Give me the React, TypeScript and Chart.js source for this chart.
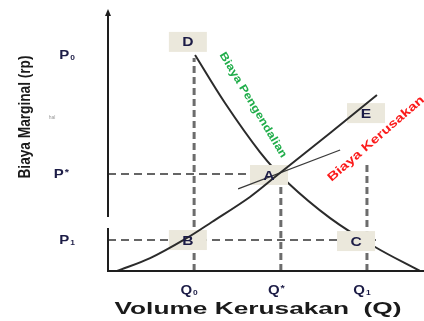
import React, { useEffect, useRef } from 'react';
import { Chart, registerables } from 'chart.js';

Chart.register(...registerables);

// Curves (x = volume, y = marginal cost, 0..100 units)
const controlX = [27.9, 37.5, 48.7, 57.4, 71.2, 85.6, 100];
const controlY = [83.7, 65.1, 46.1, 34.5, 20.5, 9.3, 0];
const damageX = [2.9, 13.5, 25.3, 33.3, 45.5, 53.5, 71.2, 86.2];
const damageY = [0, 5.0, 12.8, 19.0, 28.7, 36.4, 53.5, 68.2];
const tangentX = [41.7, 74.4];
const tangentY = [31.8, 46.9];

// Axis reference values
const qValues = [27.6, 55.4, 83.0];
const qLabels = ['Q', 'Q', 'Q'];
const qSubs = ['0', '*', '1'];
const pValues = [83.7, 37.6, 12.0];
const pLabels = ['P', 'P', 'P'];
const pSubs = ['0', '*', '1'];
const dropTops = [82.6, 37.6, 41.9];
const guideEnds = [55.4, 87.0];

// Labelled points
const pointLabels = ['D', 'E', 'A', 'B', 'C'];
const pointX = [25.6, 82.7, 51.6, 25.6, 79.5];
const pointY = [88.8, 61.2, 37.2, 12.0, 11.6];

const curveLabels = ['Biaya Pengendalian', 'Biaya Kerusakan'];
const xTitle = 'Volume Kerusakan  (Q)';
const yTitle = 'Biaya Marginal (rp)';
const smallNote = 'hal';

const FONT = '"Liberation Sans", Arial, sans-serif';
const INK = '#1c1c46';

function stretchText(
  ctx: CanvasRenderingContext2D,
  text: string,
  x: number,
  y: number,
  angle: number,
  font: string,
  color: string,
  targetW: number | null,
  sx = 1
) {
  ctx.save();
  ctx.translate(x, y);
  ctx.rotate(angle);
  ctx.font = font;
  const w = ctx.measureText(text).width;
  const s = targetW ? targetW / w : sx;
  ctx.scale(s, 1);
  ctx.fillStyle = color;
  ctx.textAlign = 'center';
  ctx.textBaseline = 'middle';
  ctx.fillText(text, 0, 0);
  ctx.restore();
}

function drawSubLabel(ctx: CanvasRenderingContext2D, base: string, sub: string, cx: number, cy: number) {
  const sx = 1.25;
  ctx.save();
  ctx.font = `bold 12px ${FONT}`;
  const wb = ctx.measureText(base).width * sx;
  ctx.font = `bold 7px ${FONT}`;
  const ws = ctx.measureText(sub).width * 1.2;
  const start = cx - (wb + ws + 1) / 2;
  ctx.fillStyle = INK;
  ctx.textAlign = 'left';
  ctx.textBaseline = 'alphabetic';
  ctx.save();
  ctx.translate(start, cy + 5);
  ctx.scale(sx, 1);
  ctx.font = `bold 12px ${FONT}`;
  ctx.fillText(base, 0, 0);
  ctx.restore();
  ctx.save();
  ctx.translate(start + wb + 1, sub === '*' ? cy + 2 : cy + 6);
  ctx.scale(1.2, 1);
  ctx.font = `bold ${sub === '*' ? 9 : 7}px ${FONT}`;
  ctx.fillText(sub, 0, 0);
  ctx.restore();
  ctx.restore();
}

const overlay = {
  id: 'overlay',
  afterDatasetDraw(chart: any, args: any) {
    if (args.index !== 2) return;
    const ctx = chart.ctx as CanvasRenderingContext2D;
    const xs = chart.scales.x;
    const ys = chart.scales.y;
    ctx.save();
    ctx.fillStyle = '#ebe8dc';
    pointLabels.forEach((_, i) => {
      const px = xs.getPixelForValue(pointX[i]);
      const py = ys.getPixelForValue(pointY[i]);
      ctx.fillRect(px - 19, py - 10, 38, 20);
    });
    ctx.restore();
  },
  afterDatasetsDraw(chart: any) {
    const ctx = chart.ctx as CanvasRenderingContext2D;
    const xs = chart.scales.x;
    const ys = chart.scales.y;
    const { left, top, bottom } = chart.chartArea;

    // point letters
    pointLabels.forEach((lab, i) => {
      const px = xs.getPixelForValue(pointX[i]);
      const py = ys.getPixelForValue(pointY[i]);
      stretchText(ctx, lab, px, py + 1, 0, `bold 13px ${FONT}`, INK, null, 1.2);
    });

    // axes
    ctx.save();
    ctx.strokeStyle = '#1e1e1e';
    ctx.lineWidth = 2;
    ctx.beginPath();
    ctx.moveTo(left, top);
    ctx.lineTo(left, bottom - 54);
    ctx.moveTo(left, bottom - 43);
    ctx.lineTo(left, bottom + 1);
    ctx.moveTo(left - 1, bottom);
    ctx.lineTo(chart.width, bottom);
    ctx.stroke();
    ctx.fillStyle = '#1e1e1e';
    ctx.beginPath();
    ctx.moveTo(left, top - 4);
    ctx.lineTo(left - 3, top + 3);
    ctx.lineTo(left + 3, top + 3);
    ctx.closePath();
    ctx.fill();
    ctx.restore();

    // tick labels
    qValues.forEach((q, i) => {
      drawSubLabel(ctx, qLabels[i], qSubs[i], xs.getPixelForValue(q) - 5, bottom + 18);
    });
    pValues.forEach((p, i) => {
      drawSubLabel(ctx, pLabels[i], pSubs[i], i === 1 ? 61 : 67, ys.getPixelForValue(p) - 1);
    });

    // curve labels
    stretchText(
      ctx,
      curveLabels[0],
      xs.getPixelForValue(46.5),
      ys.getPixelForValue(64.3),
      (59 * Math.PI) / 180,
      `bold 11px ${FONT}`,
      '#20ad4a',
      121
    );
    stretchText(
      ctx,
      curveLabels[1],
      xs.getPixelForValue(85.9),
      ys.getPixelForValue(51.2),
      (-41 * Math.PI) / 180,
      `bold 12px ${FONT}`,
      '#fb1b1b',
      124
    );

    // titles
    stretchText(ctx, xTitle, 258, 309, 0, `bold 17px ${FONT}`, '#1a1a1a', 287);
    stretchText(ctx, yTitle, 26, 117, -Math.PI / 2, `bold 16px ${FONT}`, '#1a1a1a', 123);
    stretchText(ctx, smallNote, 52, 118, 0, `5px ${FONT}`, '#9a9a9a', null, 1);
  },
};

const toPts = (xs: number[], ys: number[]) => xs.map((x, i) => ({ x, y: ys[i] }));

export default function App() {
  const ref = useRef<HTMLCanvasElement | null>(null);
  useEffect(() => {
    if (!ref.current) return;
    const curve = { showLine: true, pointRadius: 0, borderColor: '#2b2b2b', borderWidth: 2, tension: 0.35 };
    const drop = { showLine: true, pointRadius: 0, borderColor: '#6c6c6c', borderWidth: 3, borderDash: [7, 4] };
    const guide = { showLine: true, pointRadius: 0, borderColor: '#333333', borderWidth: 1.5, borderDash: [8, 5] };
    const chart = new Chart(ref.current, {
      type: 'scatter',
      data: {
        datasets: [
          { ...curve, data: toPts(damageX, damageY) },
          { ...curve, tension: 0, borderWidth: 1.3, borderColor: '#3a3a3a', data: toPts(tangentX, tangentY) },
          { ...curve, data: toPts(controlX, controlY) },
          ...qValues.map((q, i) => ({ ...drop, data: [{ x: q, y: 0 }, { x: q, y: dropTops[i] }] })),
          { ...guide, data: [{ x: 0, y: pValues[1] }, { x: guideEnds[0], y: pValues[1] }] },
          { ...guide, data: [{ x: 0, y: pValues[2] }, { x: guideEnds[1], y: pValues[2] }] },
        ] as any,
      },
      options: {
        animation: false,
        responsive: false,
        layout: { padding: { left: 108, right: 4, top: 13, bottom: 50 } },
        plugins: { legend: { display: false }, tooltip: { enabled: false } },
        scales: {
          x: { type: 'linear', min: 0, max: 100, display: false },
          y: { type: 'linear', min: 0, max: 100, display: false },
        },
      },
      plugins: [overlay],
    });
    return () => chart.destroy();
  }, []);
  return (
    <div style={{ position: 'fixed', left: 0, top: 0, width: 424, height: 321, background: '#fff' }}>
      <canvas ref={ref} width={424} height={321} style={{ display: 'block' }} />
    </div>
  );
}
